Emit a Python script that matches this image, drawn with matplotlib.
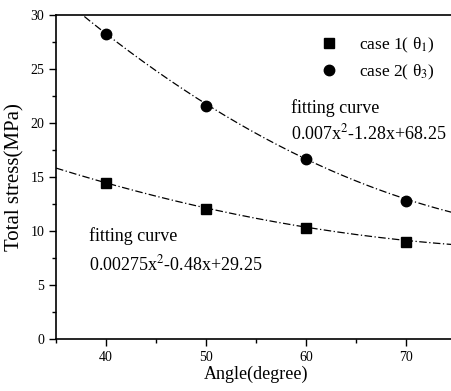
import numpy as np
import matplotlib
matplotlib.use("Agg")
import matplotlib.pyplot as plt
from matplotlib.ticker import MultipleLocator

plt.rcParams['font.family'] = ['Liberation Serif', 'DejaVu Serif']
plt.rcParams['mathtext.fontset'] = 'stix'

angles = [40, 50, 60, 70]
case1 = [14.4, 12.0, 10.3, 9.0]
case2 = [28.2, 21.6, 16.7, 12.8]
fit1_coef = [0.00275, -0.48, 29.25]
fit2_coef = [0.007, -1.28, 68.25]

fig = plt.figure(figsize=(4.52, 3.91), dpi=100)
ax = fig.add_axes([0.124, 0.133, 0.885, 0.829])

xs = np.linspace(35, 75, 300)
ax.plot(xs, np.polyval(fit1_coef, xs), color='black', lw=0.9, ls=(0, (6, 2, 1, 2)))
ax.plot(xs, np.polyval(fit2_coef, xs), color='black', lw=0.9, ls=(0, (6, 2, 1, 2)))
ax.plot(angles, case1, 's', color='black', ms=7, label='case 1( θ$_1$)')
ax.plot(angles, case2, 'o', color='black', ms=7.5, label='case 2( θ$_3$)')

ax.set_xlim(35, 75)
ax.set_ylim(0, 30)
ax.xaxis.set_major_locator(MultipleLocator(10))
ax.xaxis.set_minor_locator(MultipleLocator(5))
ax.yaxis.set_major_locator(MultipleLocator(5))
ax.yaxis.set_minor_locator(MultipleLocator(2.5))
ax.set_xticks([40, 50, 60, 70])
ax.tick_params(which='both', direction='out', labelsize=10, width=1)
ax.tick_params(which='major', length=5)
ax.tick_params(which='minor', length=3)
for s in ['left', 'bottom', 'top']:
    ax.spines[s].set_linewidth(1.2)
ax.spines['right'].set_visible(False)

ax.set_xlabel('Angle(degree)', fontsize=13, labelpad=1)
ax.set_ylabel('Total stress(MPa)', fontsize=15, labelpad=4)

ax.text(58.5, 21.4, 'fitting curve', fontsize=13, va='center')
ax.text(58.5, 19.0, r'0.007x$^2$-1.28x+68.25', fontsize=13, va='center')
ax.text(38.3, 9.5, 'fitting curve', fontsize=13, va='center')
ax.text(38.3, 6.9, r'0.00275x$^2$-0.48x+29.25', fontsize=13, va='center')

ax.legend(loc='upper right', bbox_to_anchor=(0.985, 0.985), frameon=False, fontsize=12.5,
          handletextpad=0.7, labelspacing=0.45)

fig.savefig('out.png', dpi=100)
